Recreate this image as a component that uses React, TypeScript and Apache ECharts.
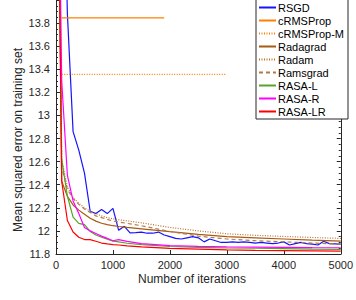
import React, { useEffect, useRef } from "react";
import * as echarts from "echarts";

const legendNames = ["RSGD", "cRMSProp", "cRMSProp-M", "Radagrad", "Radam", "Ramsgrad", "RASA-L", "RASA-R", "RASA-LR"];

const xTicks = [0, 1000, 2000, 3000, 4000, 5000];

const itersRSGD = [0, 100, 200, 300, 400, 500, 600, 700, 800, 900, 1000, 1100, 1200, 1300, 1400, 1500, 1600, 1700, 1800, 1900, 2000, 2100, 2200, 2300, 2400, 2500, 2600, 2700, 2800, 2900, 3000, 3100, 3200, 3300, 3400, 3500, 3600, 3700, 3800, 3900, 4000, 4100, 4200, 4300, 4400, 4500, 4600, 4700, 4800, 4900, 5000];
const rsgd = [17, 16, 13.88, 12.86, 12.7, 12.5, 12.17, 12.15, 12.185, 12.15, 12.195, 12.005, 12.04, 11.983, 11.985, 11.99, 11.98, 11.98, 11.99, 11.965, 11.95, 11.935, 11.93, 11.94, 11.95, 11.94, 11.905, 11.93, 11.915, 11.9, 11.9, 11.905, 11.9, 11.905, 11.9, 11.895, 11.9, 11.895, 11.89, 11.895, 11.905, 11.878, 11.89, 11.9, 11.89, 11.885, 11.878, 11.91, 11.89, 11.888, 11.885];

const itersCRMS = [100, 1900];
const crmsprop = [13.845, 13.845];
const itersCRMSM = [100, 3000];
const crmspropM = [13.355, 13.355];

const iters = [0, 100, 200, 300, 400, 500, 600, 700, 800, 900, 1000, 1100, 1250, 1500, 2000, 2500, 3000, 3500, 4000, 4500, 5000];
const radagrad = [17, 12.43, 12.3, 12.225, 12.18, 12.145, 12.11, 12.085, 12.066, 12.055, 12.045, 12.038, 12.03, 12.018, 11.993, 11.97, 11.95, 11.94, 11.93, 11.92, 11.912];
const radam = [17, 12.62, 12.38, 12.29, 12.24, 12.2, 12.17, 12.15, 12.13, 12.115, 12.105, 12.097, 12.087, 12.07, 12.03, 12.0, 11.975, 11.962, 11.952, 11.943, 11.935];
const ramsgrad = [17, 12.55, 12.36, 12.28, 12.23, 12.19, 12.16, 12.13, 12.115, 12.1, 12.085, 12.078, 12.065, 12.045, 11.995, 11.955, 11.93, 11.915, 11.905, 11.895, 11.886];
const rasaL = [17, 12.62, 12.3, 12.12, 12.065, 12.055, 11.995, 11.965, 11.945, 11.928, 11.912, 11.905, 11.893, 11.882, 11.865, 11.857, 11.852, 11.85, 11.846, 11.842, 11.84];
const rasaR = [17, 13.3, 12.48, 12.26, 12.15, 12.03, 12.0, 11.978, 11.955, 11.935, 11.915, 11.925, 11.91, 11.89, 11.872, 11.866, 11.862, 11.86, 11.857, 11.855, 11.854];
const rasaLR = [17, 12.43, 12.09, 11.99, 11.945, 11.925, 11.925, 11.91, 11.895, 11.888, 11.882, 11.878, 11.87, 11.862, 11.848, 11.842, 11.836, 11.832, 11.83, 11.827, 11.825];

const FONT = "Liberation Sans, Arial, sans-serif";
const AX = "#262626";

function pairs(xs: number[], ys: number[]) {
  return xs.map((x, i) => [x, ys[i]]);
}

export default function App() {
  const ref = useRef<HTMLDivElement>(null);
  useEffect(() => {
    if (!ref.current) return;
    const chart = echarts.init(ref.current, undefined, { renderer: "svg" });
    const mk = (name: string, xs: number[], ys: number[], color: string, type: any = "solid", width = 1.2) => ({
      name,
      type: "line",
      data: pairs(xs, ys),
      symbol: "none",
      showSymbol: false,
      clip: true,
      lineStyle: { color, width, type },
      itemStyle: { color },
    });
    const yCommon = {
      type: "value",
      min: 11.8,
      max: 14,
      interval: 0.2,
      axisLine: { show: true, lineStyle: { color: AX, width: 1 } },
      axisTick: { show: true, inside: true, length: 4, lineStyle: { color: AX } },
      minorTick: { show: true, splitNumber: 4, length: 2, lineStyle: { color: AX } },
      splitLine: { show: false },
    };
    chart.setOption({
      animation: false,
      grid: { left: 56, right: 10, top: -2, bottom: 46, containLabel: false },
      xAxis: [
        {
          type: "value",
          min: 0,
          max: 5000,
          interval: 1000,
          axisLine: { show: true, onZero: false, lineStyle: { color: AX, width: 1 } },
          axisTick: { show: true, inside: true, length: 4, lineStyle: { color: AX } },
          axisLabel: { margin: 5, fontFamily: FONT, fontSize: 11, color: AX, formatter: (v: number) => (xTicks.includes(v) ? String(v) : "") },
          splitLine: { show: false },
        },
      ],
      yAxis: [
        {
          ...yCommon,
          position: "left",
          axisLabel: { margin: 6, fontFamily: FONT, fontSize: 11, color: AX, showMaxLabel: false },
        },
        {
          ...yCommon,
          position: "right",
          axisLabel: { show: false },
        },
      ],
      legend: {
        data: legendNames,
        orient: "vertical",
        left: 256,
        top: -1,
        padding: [3, 4, 2, 2],
        itemGap: 2,
        itemWidth: 17,
        itemHeight: 11,
        itemStyle: { opacity: 0 },
        backgroundColor: "#ffffff",
        borderColor: AX,
        borderWidth: 1,
        borderRadius: 0,
        textStyle: { fontFamily: FONT, fontSize: 11, color: "#000", padding: [0, 0, 0, -3] },
      },
      graphic: [
        {
          type: "text",
          x: 18,
          y: 140,
          rotation: Math.PI / 2,
          style: {
            text: "Mean squared error on training set",
            fontFamily: FONT,
            fontSize: 12,
            fill: AX,
            textAlign: "center",
            textVerticalAlign: "middle",
          },
        },
        {
          type: "text",
          x: 192,
          y: 279,
          style: {
            text: "Number of iterations",
            fontFamily: FONT,
            fontSize: 12,
            fill: AX,
            textAlign: "center",
            textVerticalAlign: "middle",
          },
        },
      ],
      series: [
        mk("RSGD", itersRSGD, rsgd, "#1414ff"),
        mk("cRMSProp", itersCRMS, crmsprop, "#ff8000"),
        mk("cRMSProp-M", itersCRMSM, crmspropM, "#ff8000", [1, 1.5]),
        mk("Radagrad", iters, radagrad, "#a65a14"),
        mk("Radam", iters, radam, "#c0702c", [1, 1.5]),
        mk("Ramsgrad", iters, ramsgrad, "#b07c4a", [4, 3]),
        mk("RASA-L", iters, rasaL, "#56a42c"),
        mk("RASA-R", iters, rasaR, "#ff00ff"),
        mk("RASA-LR", iters, rasaLR, "#ff0000"),
      ],
    });
    return () => chart.dispose();
  }, []);
  return <div ref={ref} style={{ width: 356, height: 300, position: "absolute", left: 0, top: 0 }} />;
}
